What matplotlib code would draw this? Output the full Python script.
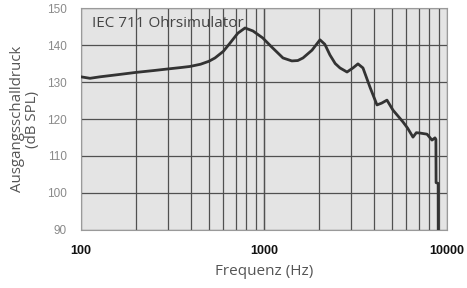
import matplotlib
matplotlib.use('Agg')
import matplotlib.pyplot as plt
from matplotlib.ticker import FixedLocator, NullFormatter

# ----------------
# DATA
# ----------------

freq_hz = [100, 112, 127, 160, 200, 250, 295, 350, 394, 450, 500, 540, 600,
           652, 720, 788, 870, 985, 1100, 1270, 1420, 1530, 1634, 1830, 2023,
           2150, 2294, 2450, 2602, 2843, 3064, 3263, 3475, 3796, 4145, 4400,
           4700, 5070, 5400, 5750, 6100, 6520, 6800, 7120, 7780, 8280, 8600,
           8700, 8720, 8950, 8960]
spl_db = [131.4, 131.0, 131.4, 132.0, 132.6, 133.1, 133.5, 133.9, 134.2,
          134.8, 135.6, 136.5, 138.3, 140.5, 143.2, 144.6, 143.8, 141.9,
          139.5, 136.5, 135.7, 135.8, 136.5, 138.6, 141.4, 140.2, 137.3,
          135.0, 133.8, 132.7, 133.8, 134.9, 133.8, 128.6, 123.8, 124.3,
          125.1, 122.4, 120.8, 119.2, 117.5, 115.1, 116.3, 116.2, 115.9,
          114.3, 114.9, 114.5, 102.8, 102.6, 90.0]

y_ticks = [90, 100, 110, 120, 130, 140, 150]
x_ticks = [100, 1000, 10000]
x_grid = [m * d for d in (100, 1000) for m in range(1, 11)]

# ----------------
# Plot
# ----------------

fig = plt.figure(figsize=(4.67, 2.88), dpi=100)
ax = fig.add_axes([0.1734, 0.2014, 0.7837, 0.7708])
ax.set_facecolor('#e4e4e4')

ax.plot(freq_hz, spl_db, color='#333333', linewidth=2.0, zorder=3,
        solid_joinstyle='round')

ax.set_xscale('log')
ax.set_xlim(100, 10000)
ax.set_ylim(90, 150)

ax.xaxis.set_major_locator(FixedLocator(x_ticks))
ax.xaxis.set_minor_locator(FixedLocator(x_grid))
ax.xaxis.set_minor_formatter(NullFormatter())
ax.set_xticklabels(['100', '1000', '10000'])
ax.set_yticks(y_ticks)

for x in x_grid:
    ax.axvline(x, color='#505050', linewidth=0.9, zorder=1)
for y in y_ticks:
    ax.axhline(y, color='#505050', linewidth=0.9, zorder=1)

ax.tick_params(axis='both', which='both', length=0)
ax.tick_params(axis='x', pad=11, labelsize=9)
ax.tick_params(axis='y', pad=10, labelsize=8.5, labelcolor='#8a8a8a')
for lbl in ax.get_xticklabels():
    lbl.set_fontweight('bold')
    lbl.set_family('Liberation Sans')
    lbl.set_color('#111111')
for lbl in ax.get_yticklabels():
    lbl.set_family('Liberation Sans')

for s in ax.spines.values():
    s.set_color('#9a9a9a')
    s.set_linewidth(0.8)

ax.text(0.03, 0.962, 'IEC 711 Ohrsimulator', transform=ax.transAxes,
        fontsize=11, color='#444444', family='Open Sans', va='top',
        ha='left', zorder=4)

ax.set_xlabel('Frequenz (Hz)', fontsize=11, color='#555555',
              family='Open Sans', labelpad=5)
ax.set_ylabel('Ausgangsschalldruck\n(dB SPL)', fontsize=10.8,
              color='#555555', family='Open Sans', labelpad=5,
              linespacing=1.0)

fig.savefig('out.png', dpi=100)
plt.close(fig)
